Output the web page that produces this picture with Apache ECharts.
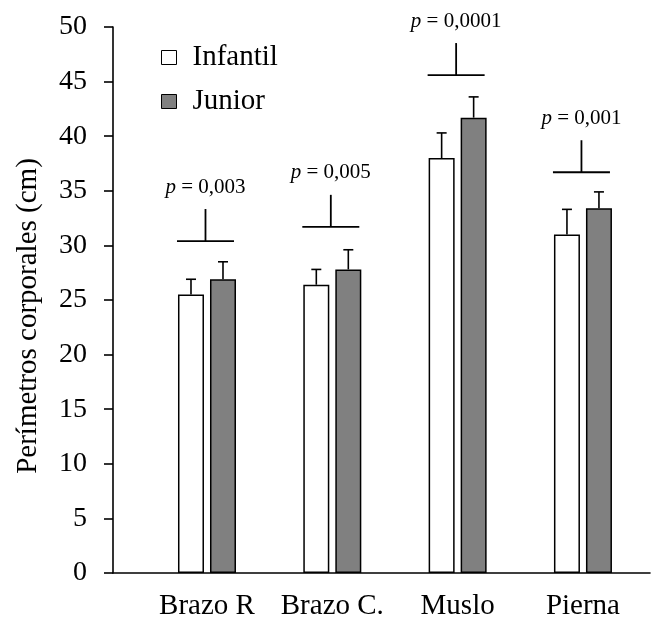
<!DOCTYPE html>
<html>
<head>
<meta charset="utf-8">
<script src="https://cdn.jsdelivr.net/npm/echarts@6/dist/echarts.min.js"></script>
<style>
  html, body { margin: 0; padding: 0; background: #fff; }
  #chart { width: 667px; height: 621px; }
</style>
</head>
<body>
<div id="chart"></div>
<script>
// Body perimeters by age group (mean + SD), with group comparison p-values
const categories = ['Brazo R', 'Brazo C.', 'Muslo', 'Pierna'];
const infantil = [25.5, 26.4, 38.0, 31.0];
const junior = [26.9, 27.8, 41.7, 33.4];
const infantilSD = [1.4, 1.4, 2.3, 2.3];
const juniorSD = [1.6, 1.8, 1.9, 1.5];
const pValues = ['0,003', '0,005', '0,0001', '0,001'];
const bracketLevel = [30.4, 31.7, 45.6, 36.7];
const yTicks = { min: 0, max: 50, step: 5 };

const FONT = 'Liberation Serif';
const BAR_W = 26;
const BAR_GAP = 6;
const HALF = (BAR_W + BAR_GAP) / 2;

const chart = echarts.init(document.getElementById('chart'), null, { renderer: 'canvas' });

function errorBars(offset) {
  return function (params, api) {
    const x = api.value(0), v = api.value(1), e = api.value(2);
    const base = api.coord([x, v]);
    const top = api.coord([x, v + e]);
    const cx = base[0] + offset;
    const st = { stroke: '#000', lineWidth: 1.6 };
    return {
      type: 'group',
      children: [
        { type: 'line', shape: { x1: cx, y1: base[1], x2: cx, y2: top[1] }, style: st },
        { type: 'line', shape: { x1: cx - 5, y1: top[1], x2: cx + 5, y2: top[1] }, style: st }
      ]
    };
  };
}

function brackets(params, api) {
  const i = params.dataIndex;
  const p = api.coord([api.value(0), api.value(1)]);
  const cx = p[0] - 1.5;
  const topY = p[1] - 32;
  const st = { stroke: '#000', lineWidth: 1.8 };
  return {
    type: 'group',
    children: [
      { type: 'line', shape: { x1: cx - 28.5, y1: p[1], x2: cx + 28.5, y2: p[1] }, style: st },
      { type: 'line', shape: { x1: cx, y1: p[1], x2: cx, y2: topY }, style: st },
      {
        type: 'text',
        x: cx,
        y: topY - 22,
        style: {
          text: '{i|p} = ' + pValues[i],
          fontFamily: FONT,
          fontSize: 21,
          fill: '#000',
          align: 'center',
          verticalAlign: 'middle',
          rich: { i: { fontStyle: 'italic', fontFamily: FONT, fontSize: 21, fill: '#000' } }
        }
      }
    ]
  };
}

const option = {
  animation: false,
  backgroundColor: '#fff',
  textStyle: { fontFamily: FONT, color: '#000' },
  grid: { left: 113, right: 17, top: 27, bottom: 48, containLabel: false },
  legend: {
    orient: 'vertical',
    left: 156,
    top: 38,
    itemWidth: 15,
    itemHeight: 14,
    itemGap: 15,
    icon: 'rect',
    selectedMode: false,
    itemStyle: { borderColor: '#000', borderWidth: 1 },
    formatter: name => '{t|' + name + '}',
    textStyle: {
      fontFamily: FONT,
      fontSize: 29,
      color: '#000',
      rich: { t: { fontFamily: FONT, fontSize: 29, color: '#000', padding: [0, 0, 0, 11] } }
    },
    data: ['Infantil', 'Junior']
  },
  xAxis: {
    type: 'value',
    min: -0.75,
    max: 3.535,
    axisLine: { show: true, onZero: false, lineStyle: { color: '#000', width: 1.6 } },
    axisTick: { show: false },
    splitLine: { show: false },
    axisLabel: {
      customValues: categories.map((c, i) => i),
      formatter: v => categories[Math.round(v)],
      fontFamily: FONT,
      fontSize: 29,
      color: '#000',
      margin: 19
    }
  },
  yAxis: {
    type: 'value',
    min: yTicks.min,
    max: yTicks.max,
    interval: yTicks.step,
    name: 'Perímetros corporales (cm)',
    nameLocation: 'middle',
    nameRotate: 90,
    nameGap: 70,
    nameTextStyle: { fontFamily: FONT, fontSize: 29, color: '#000', padding: [0, 32, 0, 0] },
    axisLine: { show: true, onZero: false, lineStyle: { color: '#000', width: 1.6 } },
    axisTick: { show: true, length: 9, lineStyle: { color: '#000', width: 1.6 } },
    splitLine: { show: false },
    axisLabel: { fontFamily: FONT, fontSize: 28, color: '#000', margin: 26 }
  },
  series: [
    {
      name: 'Infantil',
      type: 'bar',
      barWidth: BAR_W,
      barGap: (BAR_GAP / BAR_W * 100).toFixed(1) + '%',
      itemStyle: { color: '#ffffff', borderColor: '#000', borderWidth: 1.5 },
      data: categories.map((c, i) => [i, infantil[i]])
    },
    {
      name: 'Junior',
      type: 'bar',
      barWidth: BAR_W,
      barGap: (BAR_GAP / BAR_W * 100).toFixed(1) + '%',
      itemStyle: { color: '#808080', borderColor: '#000', borderWidth: 1.5 },
      data: categories.map((c, i) => [i, junior[i]])
    },
    {
      type: 'custom',
      clip: false,
      silent: true,
      renderItem: errorBars(-HALF),
      data: categories.map((c, i) => [i, infantil[i], infantilSD[i]]),
      z: 3
    },
    {
      type: 'custom',
      clip: false,
      silent: true,
      renderItem: errorBars(HALF),
      data: categories.map((c, i) => [i, junior[i], juniorSD[i]]),
      z: 3
    },
    {
      type: 'custom',
      clip: false,
      silent: true,
      renderItem: brackets,
      data: categories.map((c, i) => [i, bracketLevel[i]]),
      z: 3
    }
  ]
};

chart.setOption(option);
</script>
</body>
</html>
